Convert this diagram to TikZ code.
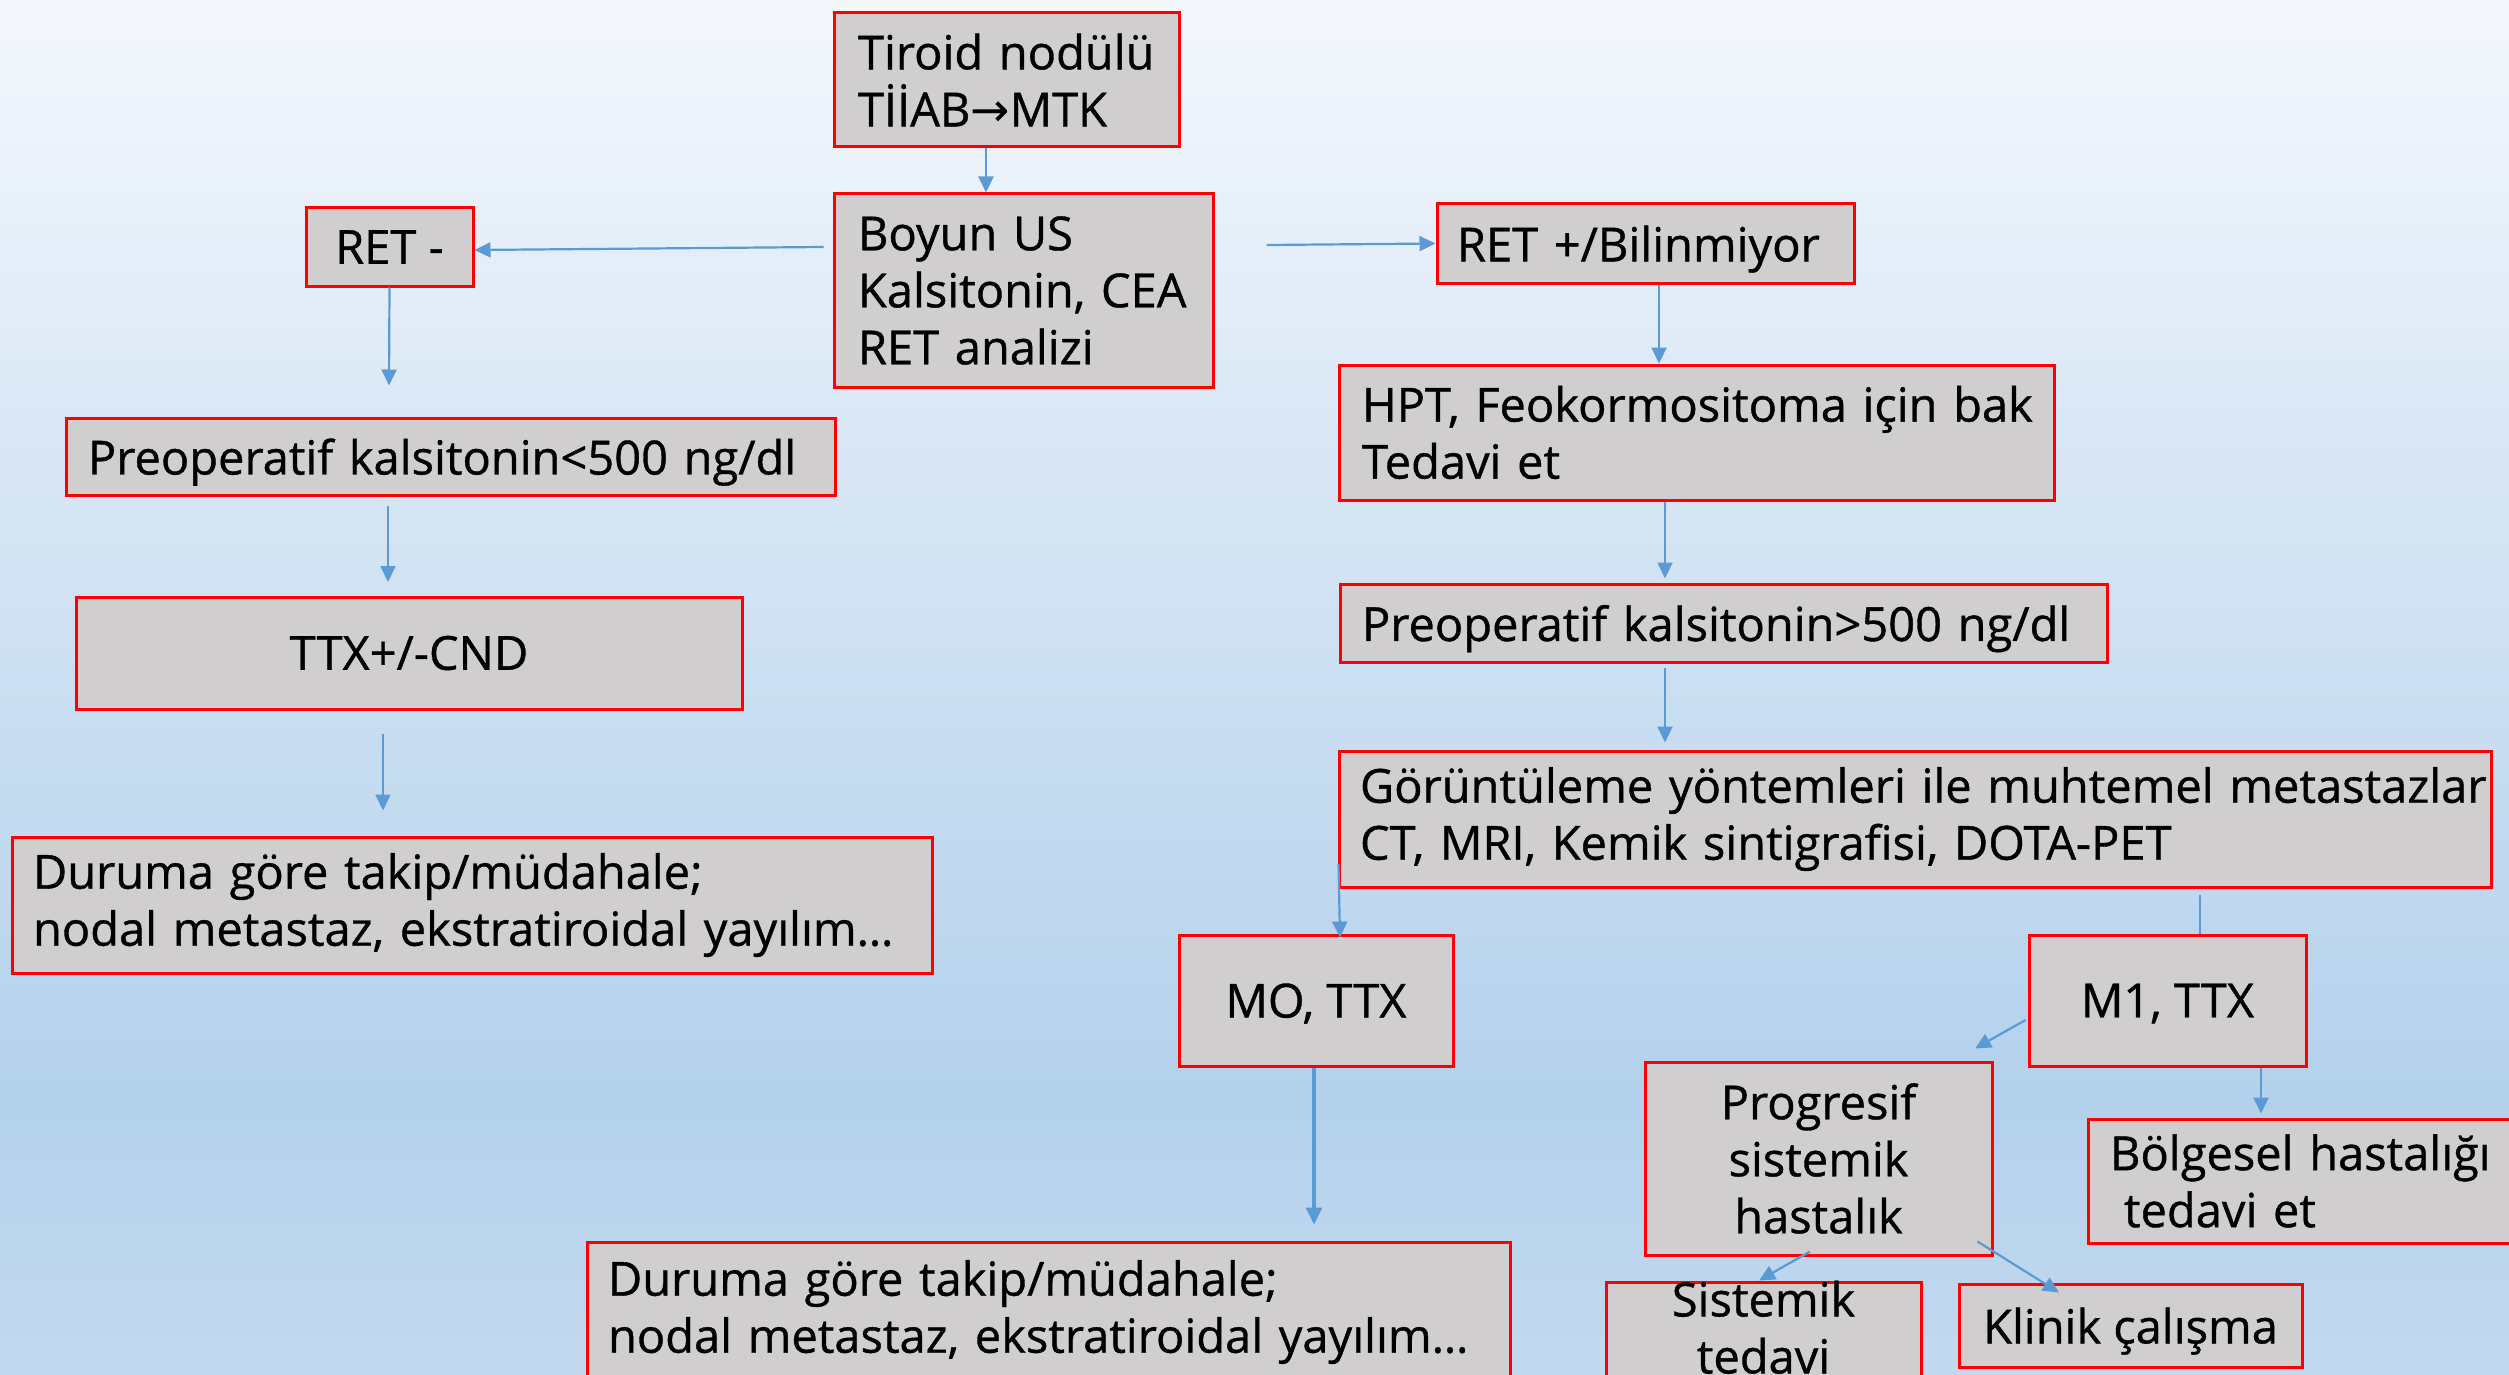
\documentclass[tikz,border=0pt]{standalone}
\usepackage{fontspec}
\setmainfont{Open Sans}[FakeBold=0.8]
\newfontfamily\arrowfont{DejaVu Sans}
\usetikzlibrary{arrows.meta,calc}

\definecolor{bgtop}{HTML}{F4F8FD}
\definecolor{bgmid}{HTML}{D6E5F4}
\definecolor{bgdeep}{HTML}{B3D1EC}
\definecolor{bgbot}{HTML}{C3D9EF}
\definecolor{boxgray}{HTML}{D0CECE}
\definecolor{boxred}{HTML}{FF0000}
\definecolor{flowblue}{HTML}{5B9BD5}

% page background: pale at the top, deepest blue low down, a bit lighter at the bottom
\pgfdeclareverticalshading{pagebg}{100bp}{color(0bp)=(bgbot); color(25bp)=(bgbot); color(35bp)=(bgdeep); color(56.8bp)=(bgmid); color(75bp)=(bgtop); color(100bp)=(bgtop)}

\begin{document}
\begin{tikzpicture}[x=1pt,y=-1pt,
  box/.style={draw=boxred, line width=3pt, fill=boxgray, inner sep=0pt,
              font=\fontsize{47}{57}\selectfont},
  lbox/.style={box, align=left},
  cbox/.style={box, align=center},
  flat/.style={text depth=0pt},
  boxtext/.style={inner sep=0pt, align=center, font=\fontsize{47}{57}\selectfont},
  flow/.style={draw=flowblue, line width=2.2pt, -{Triangle[length=16pt,width=15pt]}},
  bigflow/.style={flow, line width=3.5pt, -{Triangle[length=17pt,width=16pt]}},
  link/.style={draw=flowblue, line width=2.2pt},
]
\useasboundingbox (0,0) rectangle (2509,1375);
\clip (0,0) rectangle (2509,1375);
\shade[shading=pagebg] (0,0) rectangle (2509,1375);

% top of the flow
\node[lbox, text width=297pt, inner xsep=24pt, minimum height=134pt] (tiroid) at (1006.5,80)
  {\mbox{Tiroid nodülü}\\\mbox{TİİAB{\arrowfont →}MTK}};
\node[lbox, text width=331pt, inner xsep=24pt, minimum height=193pt] (boyun) at (1023.5,290.5)
  {\mbox{Boyun US}\\\mbox{Kalsitonin, CEA}\\\mbox{RET analizi}};

% RET negative branch
\node[cbox, minimum width=167pt, minimum height=78pt] (retm) at (389.5,247) {RET -};
\node[lbox, flat, text width=725pt, inner xsep=22pt, minimum height=77pt] (preopl) at (450.5,456.5)
  {\mbox{Preoperatif kalsitonin<500 ng/dl}};
\node[cbox, minimum width=666pt, minimum height=112pt] (ttx) at (409,653) {TTX+/-CND};
\node[lbox, text width=878pt, inner xsep=21pt, minimum height=136pt] (dur1) at (472,905)
  {\mbox{Duruma göre takip/müdahale;}\\\mbox{nodal metastaz, ekstratiroidal yayılım…}};

% RET positive / unknown branch
\node[lbox, flat, text width=377pt, inner xsep=20pt, minimum height=79pt] (retp) at (1645.5,243.5)
  {\mbox{RET +/Bilinmiyor}};
\node[lbox, text width=669pt, inner xsep=23pt, minimum height=135pt] (hpt) at (1696.5,432.5)
  {\mbox{HPT, Feokormositoma için bak}\\\mbox{Tedavi et}};
\node[lbox, flat, text width=723pt, inner xsep=22pt, minimum height=78pt] (preopg) at (1723.5,623)
  {\mbox{Preoperatif kalsitonin>500 ng/dl}};
\node[lbox, text width=1110pt, inner xsep=21pt, minimum height=136pt] (goruntu) at (1915,819)
  {\mbox{Görüntüleme yöntemleri ile muhtemel metastazlar}\\\mbox{CT, MRI, Kemik sintigrafisi, DOTA-PET}};
\node[cbox, flat, minimum width=274pt, minimum height=131pt] (m0) at (1316,1000.5) {MO, TTX};
\node[cbox, flat, minimum width=277pt, minimum height=131pt] (m1) at (2167.5,1000.5) {M1, TTX};
\node[lbox, text width=881pt, inner xsep=21pt, minimum height=140pt] (dur2) at (1048.5,1312)
  {\mbox{Duruma göre takip/müdahale;}\\\mbox{nodal metastaz, ekstratiroidal yayılım…}};
\node[cbox, minimum width=347pt, minimum height=193pt] (prog) at (1818.5,1158.5)
  {Progresif\\sistemik\\hastalık};
\node[lbox, text width=428pt, inner xsep=22pt, minimum height=124pt] (bolge) at (2324,1181)
  {\mbox{Bölgesel hastalığı}\\\mbox{\hspace*{14pt}tedavi et}};
\node[box, minimum width=315pt, minimum height=140pt] (sist) at (1763.5,1352) {};
\node[boxtext, anchor=north] (sisttext) at (sist.north) {Sistemik\\tedavi};
\node[cbox, flat, minimum width=343pt, minimum height=83pt] (klinik) at (2130.5,1325.5) {Klinik çalışma};

% connectors
\draw[flow] ($(tiroid.south)+(-20.5,0)$) -- ($(boyun.north)+(-37.5,0)$);
\draw[flow] ($(boyun.west)+(-9,-43.5)$) -- ($(retm.east)+(0,3)$);
\draw[flow] ($(boyun.east)+(52,-45.5)$) -- (retp.west);

\draw[flow] (retm.south) -- ($(preopl.north)+(-61.5,-31)$);
\draw[flow] ($(preopl.south)+(-62.5,9.5)$) -- ($(ttx.north)+(-21,-13.5)$);
\draw[flow] ($(ttx.south)+(-26,23)$) -- ($(dur1.north)+(-89,-25)$);

\draw[flow] ($(retp.south)+(13.5,0)$) -- ($(hpt.north)+(-37.5,0)$);
\draw[flow] ($(hpt.south)+(-31.5,0)$) -- ($(preopg.north)+(-58.5,-4)$);
\draw[flow] ($(preopg.south)+(-58.5,4)$) -- ($(goruntu.north)+(-250,-7)$);
\draw[flow] ($(goruntu.west)+(1,45)$) -- ($(m0.north)+(24,4)$);
\draw[link] ($(goruntu.south)+(285,6)$) -- ($(m1.north)+(32.5,0)$);
\draw[bigflow] ($(m0.south)+(-2,0)$) -- ($(dur2.north)+(265.5,-16)$);

\draw[flow] ($(m1.west)+(-2,19.5)$) -- ($(prog.north)+(156.5,-12)$);
\draw[flow] ($(m1.south)+(93.5,0)$) -- ($(bolge.north)+(-63,-4)$);
\draw[flow] ($(prog.south)+(-8.5,-5)$) -- ($(sist.north)+(-4.5,0)$);
\draw[flow] ($(prog.south east)+(-16,-15)$) -- ($(klinik.north)+(-71.5,10)$);
\end{tikzpicture}
\end{document}
